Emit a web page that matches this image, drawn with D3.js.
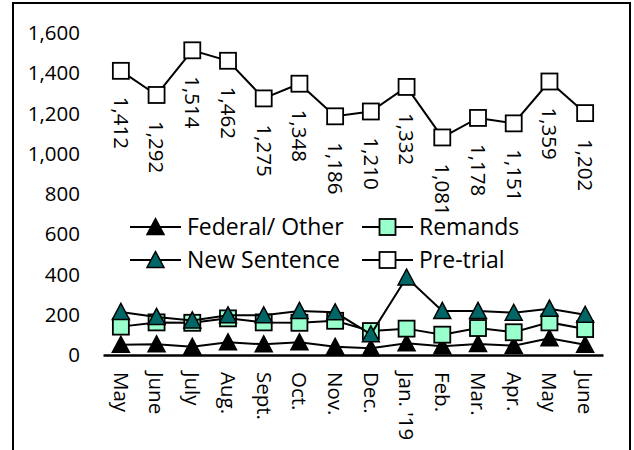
<!DOCTYPE html>
<html>
<head>
<meta charset="utf-8">
<script src="https://cdn.jsdelivr.net/npm/d3@7"></script>
<style>
  body { margin: 0; background: #fff; }
  text { font-family: "Open Sans", sans-serif; fill: #000; }
</style>
</head>
<body>
<div id="chart"></div>
<script>
const months = ["May", "June", "July", "Aug.", "Sept.", "Oct.", "Nov.", "Dec.", "Jan. '19", "Feb.", "Mar.", "Apr.", "May", "June"];
const federalOther = [51, 53, 41, 63, 53, 63, 41, 33, 58, 43, 55, 46, 83, 51];
const remands = [141, 162, 160, 182, 162, 160, 170, 119, 131, 101, 134, 113, 162, 129];
const newSentence = [214, 189, 172, 197, 197, 219, 212, 103, 385, 219, 219, 210, 230, 200];
const preTrial = [1412, 1292, 1514, 1462, 1275, 1348, 1186, 1210, 1332, 1081, 1178, 1151, 1359, 1202];
const yTicks = [0, 200, 400, 600, 800, 1000, 1200, 1400, 1600];

const width = 634, height = 450;

const series = [
    { name: "Federal/ Other", values: federalOther, shape: "triangle", fill: "#000000" },
    { name: "Remands", values: remands, shape: "square", fill: "#99ffcc" },
    { name: "New Sentence", values: newSentence, shape: "triangle", fill: "#006666" },
    { name: "Pre-trial", values: preTrial, shape: "square", fill: "#ffffff" }
];

const svg = d3.create("svg")
    .attr("width", width)
    .attr("height", height);

// outer frame (bottom edge runs off the picture)
svg.append("rect")
    .attr("x", 13).attr("y", 3)
    .attr("width", 617).attr("height", 460)
    .attr("fill", "none")
    .attr("stroke", "#000")
    .attr("stroke-width", 2);

const x = d3.scaleBand()
    .domain(d3.range(months.length))
    .range([103, 603])
    .padding(0);

const y = d3.scaleLinear()
    .domain([0, 1600])
    .range([355, 33]);

const cx = i => x(i) + x.bandwidth() / 2;

// y axis labels, no line
const yAxis = svg.append("g")
    .attr("transform", "translate(80,0)")
    .call(d3.axisLeft(y).tickValues(yTicks).tickSize(0).tickPadding(0).tickFormat(d3.format(",")));
yAxis.select(".domain").remove();
yAxis.selectAll("text")
    .style("font-family", "'Open Sans', sans-serif")
    .style("font-size", "20.5px");

// x axis
const xAxis = svg.append("g")
    .attr("transform", "translate(0,355)")
    .call(d3.axisBottom(x).tickSize(0).tickFormat(i => months[i]));
xAxis.select(".domain")
    .attr("stroke", "#000")
    .attr("stroke-width", 2.5);
xAxis.selectAll("text")
    .style("font-family", "'Open Sans', sans-serif")
    .style("font-size", "20.5px")
    .attr("text-anchor", "start")
    .attr("transform", "translate(0,17) rotate(90)")
    .attr("x", 0)
    .attr("y", 0)
    .attr("dy", "0.35em");

function marker(sel, shape, fill) {
    if (shape === "square") {
        sel.append("rect")
            .attr("x", -8).attr("y", -8)
            .attr("width", 16).attr("height", 16)
            .attr("fill", fill)
            .attr("stroke", "#000")
            .attr("stroke-width", 1.8);
    } else {
        sel.append("path")
            .attr("d", "M0,-8.5L8.5,7.5L-8.5,7.5Z")
            .attr("fill", fill)
            .attr("stroke", "#000")
            .attr("stroke-width", 1.5)
            .attr("stroke-linejoin", "miter");
    }
}

const line = d3.line()
    .x((d, i) => cx(i))
    .y(d => y(d));

// draw series lines and markers
series.forEach(s => {
    const g = svg.append("g");
    g.append("path")
        .attr("d", line(s.values))
        .attr("fill", "none")
        .attr("stroke", "#000")
        .attr("stroke-width", 2);
    g.selectAll("g.pt")
        .data(s.values)
        .enter().append("g")
        .attr("class", "pt")
        .attr("transform", (d, i) => `translate(${cx(i)},${y(d)})`)
        .each(function () { marker(d3.select(this), s.shape, s.fill); });
});

// data labels for pre-trial, rotated below points
svg.append("g")
    .selectAll("text")
    .data(preTrial)
    .enter().append("text")
    .attr("transform", (d, i) => `translate(${cx(i)},${y(d) + 26}) rotate(90)`)
    .attr("dy", "0.35em")
    .style("font-size", "20.5px")
    .text(d => d3.format(",")(d));

// legend
const legendPos = [
    { lx: 130, ly: 227 },
    { lx: 362, ly: 227 },
    { lx: 130, ly: 260 },
    { lx: 362, ly: 260 }
];
const legend = svg.append("g")
    .selectAll("g")
    .data(series)
    .enter().append("g")
    .attr("transform", (d, i) => `translate(${legendPos[i].lx},${legendPos[i].ly})`);
legend.append("line")
    .attr("x1", 0).attr("x2", 51)
    .attr("stroke", "#000")
    .attr("stroke-width", 2);
legend.append("g")
    .attr("transform", "translate(25.5,0)")
    .each(function (d) { marker(d3.select(this), d.shape, d.fill); });
legend.append("text")
    .attr("x", 57)
    .attr("dy", "0.35em")
    .style("font-size", "23px")
    .text(d => d.name);

document.getElementById("chart").appendChild(svg.node());
</script>
</body>
</html>
